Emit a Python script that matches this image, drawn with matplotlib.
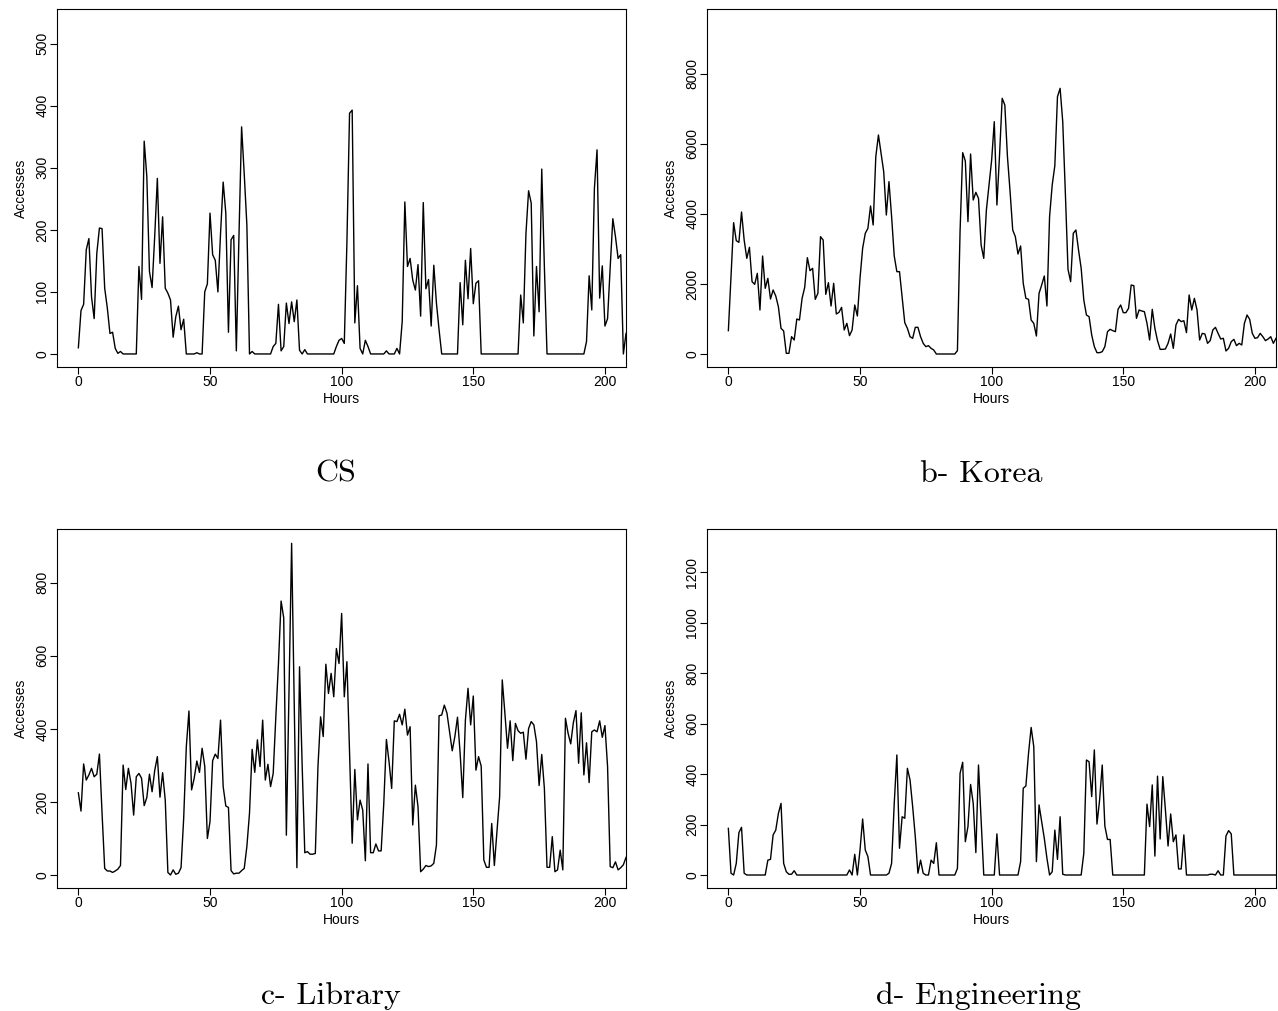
import matplotlib
matplotlib.use("Agg")
import matplotlib.pyplot as plt

# Hourly access counts for four sites
cs_accesses = [
    10, 70, 80, 168, 186, 92, 57, 162, 203, 202,
    106, 74, 33, 35, 9, 1, 4, 0, 0, 0,
    0, 0, 0, 141, 88, 343, 286, 133, 107, 190,
    283, 146, 221, 106, 98, 87, 27, 60, 77, 39,
    56, 0, 0, 0, 0, 2, 0, 0, 100, 113,
    227, 160, 151, 100, 194, 277, 227, 35, 184, 191,
    5, 190, 366, 290, 208, 0, 4, 0, 0, 0,
    0, 0, 0, 0, 12, 17, 80, 5, 12, 82,
    49, 84, 52, 87, 6, 0, 7, 0, 0, 0,
    0, 0, 0, 0, 0, 0, 0, 0, 12, 22,
    25, 17, 180, 388, 393, 50, 110, 9, 0, 22,
    12, 0, 0, 0, 0, 0, 0, 5, 0, 0,
    0, 9, 0, 52, 245, 141, 154, 119, 103, 144,
    61, 244, 105, 120, 45, 143, 82, 39, 0, 0,
    0, 0, 0, 0, 0, 115, 47, 151, 89, 170,
    81, 114, 118, 0, 0, 0, 0, 0, 0, 0,
    0, 0, 0, 0, 0, 0, 0, 0, 95, 50,
    194, 263, 243, 29, 141, 68, 298, 140, 0, 0,
    0, 0, 0, 0, 0, 0, 0, 0, 0, 0,
    0, 0, 0, 20, 126, 71, 267, 329, 90, 142,
    45, 57, 140, 218, 189, 154, 160, 0, 33,
]

korea_accesses = [
    667, 2200, 3752, 3238, 3190, 4057, 3257, 2733, 3048, 2067,
    1990, 2305, 1257, 2800, 1876, 2162, 1571, 1829, 1657, 1352,
    733, 657, 19, 19, 495, 400, 1000, 971, 1590, 1905,
    2752, 2381, 2448, 1562, 1733, 3352, 3257, 1705, 2038, 1371,
    2019, 1143, 1190, 1333, 686, 876, 524, 686, 1400, 1086,
    2162, 3019, 3448, 3590, 4229, 3686, 5638, 6257, 5733, 5210,
    3971, 4924, 3924, 2800, 2352, 2352, 1638, 895, 733, 495,
    448, 762, 762, 495, 305, 210, 238, 162, 114, 0,
    0, 0, 0, 0, 0, 0, 0, 95, 3500, 5752,
    5514, 3781, 5714, 4400, 4619, 4448, 3114, 2733, 4114, 4829,
    5543, 6638, 4257, 5686, 7305, 7114, 5638, 4638, 3543, 3352,
    2857, 3086, 2019, 1590, 1562, 971, 876, 514, 1733, 1971,
    2229, 1371, 3924, 4829, 5381, 7352, 7590, 6638, 4590, 2419,
    2067, 3448, 3543, 2971, 2448, 1543, 1114, 1067, 543, 210,
    38, 38, 67, 210, 638, 705, 667, 638, 1276, 1400,
    1181, 1181, 1305, 1971, 1952, 1019, 1257, 1229, 1210, 876,
    400, 1276, 733, 381, 133, 133, 143, 305, 571, 162,
    829, 990, 924, 952, 610, 1686, 1257, 1590, 1257, 400,
    590, 571, 305, 381, 686, 762, 590, 429, 448, 86,
    162, 352, 419, 238, 305, 257, 876, 1114, 990, 590,
    448, 467, 590, 495, 381, 429, 495, 305, 448,
]

library_accesses = [
    225, 175, 304, 260, 274, 292, 269, 276, 331, 169,
    18, 11, 11, 7, 11, 16, 26, 301, 234, 292,
    251, 164, 269, 278, 265, 190, 212, 276, 228, 286,
    324, 213, 280, 205, 7, 0, 14, 2, 5, 20,
    155, 351, 449, 233, 265, 312, 281, 347, 298, 100,
    146, 313, 331, 319, 424, 242, 189, 185, 12, 3,
    5, 5, 12, 18, 78, 169, 344, 281, 370, 297,
    424, 260, 303, 242, 278, 433, 579, 750, 704, 109,
    500, 908, 460, 20, 570, 300, 61, 64, 57, 57,
    59, 297, 433, 379, 577, 497, 552, 488, 620, 579,
    716, 488, 584, 333, 87, 289, 151, 205, 178, 39,
    304, 61, 61, 85, 66, 66, 196, 371, 310, 237,
    422, 420, 440, 411, 454, 383, 406, 137, 246, 187,
    9, 16, 26, 23, 25, 32, 82, 436, 438, 465,
    443, 392, 340, 379, 432, 333, 212, 424, 511, 411,
    490, 287, 324, 298, 41, 21, 21, 141, 26, 119,
    214, 534, 443, 347, 422, 313, 415, 395, 388, 391,
    317, 401, 420, 411, 365, 245, 330, 237, 21, 21,
    105, 9, 14, 68, 14, 429, 388, 359, 417, 450,
    306, 444, 274, 362, 253, 392, 397, 392, 422, 377,
    409, 297, 23, 20, 36, 14, 20, 28, 48,
]

engineering_accesses = [
    185, 7, 0, 46, 168, 189, 7, 0, 0, 0,
    0, 0, 0, 0, 0, 59, 62, 159, 178, 244,
    284, 46, 13, 3, 3, 17, 0, 0, 0, 0,
    0, 0, 0, 0, 0, 0, 0, 0, 0, 0,
    0, 0, 0, 0, 0, 0, 20, 0, 82, 0,
    99, 222, 99, 73, 0, 0, 0, 0, 0, 0,
    0, 7, 46, 284, 476, 106, 231, 225, 423, 377,
    271, 152, 7, 59, 7, 0, 0, 59, 46, 128,
    0, 0, 0, 0, 0, 0, 0, 26, 403, 447,
    132, 192, 359, 284, 89, 436, 218, 0, 0, 0,
    0, 0, 163, 0, 0, 0, 0, 0, 0, 0,
    0, 53, 344, 353, 482, 585, 509, 53, 278, 211,
    145, 66, 0, 13, 178, 62, 231, 3, 0, 0,
    0, 0, 0, 0, 0, 86, 456, 449, 311, 496,
    202, 297, 436, 194, 141, 141, 0, 0, 0, 0,
    0, 0, 0, 0, 0, 0, 0, 0, 0, 281,
    192, 357, 75, 392, 143, 390, 258, 115, 242, 132,
    159, 24, 24, 159, 0, 0, 0, 0, 0, 0,
    0, 0, 0, 3, 3, 0, 17, 0, 0, 155,
    176, 163, 0, 0, 0, 0, 0, 0, 0, 0,
    0, 0, 0, 0, 0, 0, 0, 0, 0,
]

captions = ["CS", "b- Korea", "c- Library", "d- Engineering"]
x_ticks = [0, 50, 100, 150, 200]
y_ticks = [
    [0, 100, 200, 300, 400, 500],
    [0, 2000, 4000, 6000, 8000],
    [0, 200, 400, 600, 800],
    [0, 200, 400, 600, 800, 1000, 1200],
]
y_limits = [(-21.5, 556), (-380, 9857), (-36.4, 946.4), (-52.7, 1370.7)]
series = [cs_accesses, korea_accesses, library_accesses, engineering_accesses]

W, H = 1278, 1011
fig = plt.figure(figsize=(W / 100, H / 100), dpi=100)

# panel boxes in pixels: left, top, right, bottom
boxes = [
    (57.3, 9, 626, 367.3),
    (707.3, 9, 1276, 367.3),
    (57.3, 529.3, 626, 888.3),
    (707.3, 529.3, 1276, 888.3),
]
caption_pos = [(336, 482), (981.7, 482), (331, 1004), (978.5, 1004)]

axis_font = "Liberation Sans"

for data, box, yt, yl, cap, cpos in zip(series, boxes, y_ticks, y_limits,
                                         captions, caption_pos):
    l, t, r, b = box
    ax = fig.add_axes([l / W, 1 - b / H, (r - l) / W, (b - t) / H])
    hours = list(range(len(data)))
    ax.plot(hours, data, color="black", linewidth=1.0)
    ax.set_xlim(-8, 208)
    ax.set_ylim(*yl)
    ax.set_xticks(x_ticks)
    ax.set_yticks(yt)
    ax.set_xticklabels([str(v) for v in x_ticks], fontname=axis_font, fontsize=10)
    ax.set_yticklabels([str(v) for v in yt], fontname=axis_font, fontsize=10,
                       rotation=90, va="center")
    ax.tick_params(axis="both", direction="out", length=4.8, width=0.8,
                   color="black")
    ax.tick_params(axis="x", pad=1)
    ax.tick_params(axis="y", pad=1)
    for s in ax.spines.values():
        s.set_linewidth(0.8)
        s.set_color("black")
    ax.set_xlabel("Hours", fontname=axis_font, fontsize=10, labelpad=2)
    ax.set_ylabel("Accesses", fontname=axis_font, fontsize=10, labelpad=5.5)
    fig.text(cpos[0] / W, 1 - cpos[1] / H, cap, family="cmr10", fontsize=23,
             ha="center", va="baseline")

fig.savefig("out.png", dpi=100)
